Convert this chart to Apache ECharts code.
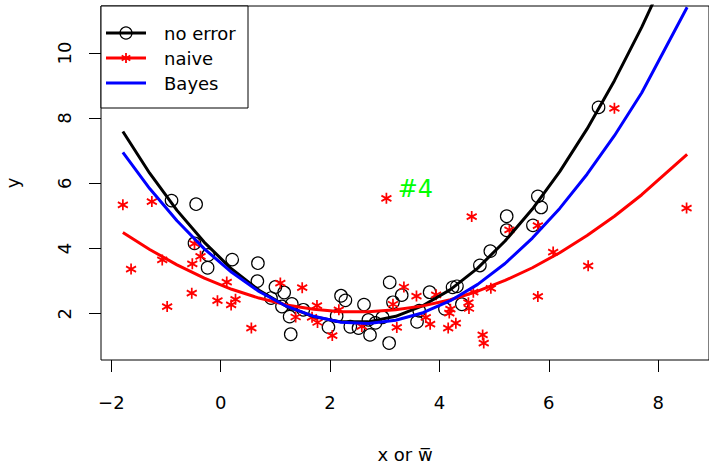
<!DOCTYPE html>
<html>
<head>
<meta charset="utf-8">
<script src="https://cdn.jsdelivr.net/npm/echarts@6/dist/echarts.min.js"></script>
<style>
  html, body { margin: 0; padding: 0; background: #fff; }
  #chart { width: 709px; height: 465px; }
</style>
</head>
<body>
<div id="chart"></div>
<script>
// tick labels
var xTicks = [-2, 0, 2, 4, 6, 8];
var yTicks = [2, 4, 6, 8, 10];

// "no error" points: true x against y
var xTrue = [-0.90, -0.45, -0.48, -0.23, -0.24, 0.21, 0.68, 0.67, 1.00, 1.16, 0.92, 1.12, 1.30, 1.26, 1.51, 1.28,
  1.97, 2.20, 2.28, 2.12, 2.37, 2.52, 2.62, 2.70, 2.83, 2.96, 2.73, 3.08, 3.09, 3.31, 3.15, 3.59, 3.63, 3.82,
  4.10, 4.24, 4.32, 4.41, 4.74, 4.93, 5.23, 5.23, 5.71, 5.80, 5.86, 6.91];
var yTrue = [5.47, 5.36, 4.16, 3.80, 3.41, 3.66, 3.55, 3.00, 2.82, 2.65, 2.48, 2.22, 2.30, 1.91, 2.12, 1.37,
  1.59, 2.55, 2.41, 1.93, 1.60, 1.56, 2.28, 1.81, 1.72, 1.89, 1.35, 1.10, 2.96, 2.57, 2.35, 1.75, 2.09, 2.66,
  2.15, 2.81, 2.84, 2.29, 3.48, 3.92, 4.99, 4.56, 4.71, 5.60, 5.26, 8.33];

// "naive" points: mean of replicates (w bar) against y
var wBar = [-1.79, -1.26, -1.64, -1.07, -0.52, -0.37, -0.48, -0.53, -0.98, -0.06, 0.11, 0.19, 0.27, 0.56,
  1.09, 1.49, 1.37, 1.76, 1.67, 1.77, 2.04, 2.16, 2.58, 3.03, 3.15, 3.35, 3.58, 3.22, 3.75, 3.83, 3.94,
  4.20, 4.18, 4.16, 4.30, 4.53, 4.54, 4.62, 4.59, 4.94, 4.79, 4.81, 5.28, 5.80, 5.80, 6.08, 6.72, 7.20, 8.52];
var yNaive = [5.34, 5.44, 3.37, 3.65, 3.53, 3.76, 4.15, 2.63, 2.22, 2.40, 2.97, 2.27, 2.44, 1.56,
  2.94, 2.80, 1.90, 2.25, 1.89, 1.73, 1.33, 2.12, 1.61, 5.54, 2.29, 2.82, 2.54, 1.58, 1.89, 1.68, 2.58,
  2.14, 2.02, 1.56, 1.71, 2.34, 2.16, 2.66, 4.98, 2.78, 1.35, 1.10, 4.57, 4.70, 2.53, 3.89, 3.47, 8.30, 5.24];

// fitted curves
var fitXTrue = [-1.79, -1.3, -0.8, -0.3, 0.2, 0.7, 1.2, 1.7, 2.2, 2.7, 3.2, 3.7, 4.2, 4.7, 5.2, 5.7, 6.2, 6.7, 7.2, 7.7, 8.2];
var fitNoError = [7.59, 6.31, 5.17, 4.19, 3.37, 2.72, 2.23, 1.91, 1.75, 1.75, 1.92, 2.25, 2.74, 3.40, 4.23, 5.21, 6.36, 7.67, 9.15, 10.79, 12.6];
var fitXW = [-1.79, -1.3, -0.8, -0.3, 0.2, 0.7, 1.2, 1.7, 2.2, 2.7, 3.2, 3.7, 4.2, 4.7, 5.2, 5.7, 6.2, 6.7, 7.2, 7.7, 8.53];
var fitNaive = [4.49, 3.97, 3.50, 3.09, 2.75, 2.48, 2.27, 2.14, 2.06, 2.06, 2.12, 2.24, 2.43, 2.69, 3.02, 3.41, 3.87, 4.40, 4.99, 5.65, 6.89];
var fitBayes = [6.95, 5.84, 4.85, 3.99, 3.27, 2.68, 2.23, 1.92, 1.74, 1.70, 1.80, 2.03, 2.40, 2.90, 3.54, 4.32, 5.23, 6.28, 7.46, 8.78, 11.4];

var panelTag = {x: 3.56, y: 5.83, text: '#4'};

function pairs(xs, ys) {
  return xs.map(function (x, i) { return [x, ys[i]]; });
}

var FONT = 'DejaVu Sans';
var STAR = 'path://M0,-10L0,10M-8.66,-5L8.66,5M-8.66,5L8.66,-5';

var chart = echarts.init(document.getElementById('chart'), null, {renderer: 'svg'});

// small legend drawn by hand, R style
function legendRow(y, color, label) {
  return [
    {type: 'line', z: 101, shape: {x1: 106, y1: y, x2: 146, y2: y}, style: {stroke: color, lineWidth: 3}},
    {type: 'text', z: 102, x: 164, y: y, style: {text: label, fontSize: 18, fontFamily: FONT, fill: '#000', verticalAlign: 'middle'}}
  ];
}
var legendParts = [
  {type: 'rect', z: 100, shape: {x: 101, y: 6, width: 147, height: 102},
    style: {fill: '#fff', stroke: '#000', lineWidth: 1}},
  {type: 'circle', z: 102, shape: {cx: 126, cy: 33, r: 6}, style: {fill: 'none', stroke: '#000', lineWidth: 1.2}},
  {type: 'line', z: 102, shape: {x1: 126, y1: 53, x2: 126, y2: 63}, style: {stroke: '#ff0000', lineWidth: 1.8}},
  {type: 'line', z: 102, shape: {x1: 121.7, y1: 55.5, x2: 130.3, y2: 60.5}, style: {stroke: '#ff0000', lineWidth: 1.8}},
  {type: 'line', z: 102, shape: {x1: 121.7, y1: 60.5, x2: 130.3, y2: 55.5}, style: {stroke: '#ff0000', lineWidth: 1.8}}
].concat(legendRow(33, '#000', 'no error'), legendRow(58, '#ff0000', 'naive'), legendRow(83, '#0000ff', 'Bayes'));

var option = {
  animation: false,
  textStyle: {fontFamily: FONT},
  grid: {left: 101, right: 0, top: 6, bottom: 105, containLabel: false, outerBoundsMode: 'none',
    show: true, borderColor: '#000', borderWidth: 1},
  xAxis: {
    type: 'value', min: -2.19, max: 8.93,
    axisLine: {show: false, onZero: false}, splitLine: {show: false},
    axisTick: {show: true, length: 12, customValues: xTicks, lineStyle: {color: '#000', width: 1}},
    axisLabel: {
      customValues: xTicks, margin: 33, fontSize: 18, color: '#000', fontFamily: FONT,
      formatter: function (v) { return v < 0 ? '\u2212' + Math.abs(v) : String(v); }
    },
    name: 'x or w\u0305', nameLocation: 'middle', nameGap: 85,
    nameTextStyle: {fontSize: 18, color: '#000', fontFamily: FONT}
  },
  yAxis: {
    type: 'value', min: 0.58, max: 11.44,
    axisLine: {show: false, onZero: false}, splitLine: {show: false},
    axisTick: {show: true, length: 12, customValues: yTicks, lineStyle: {color: '#000', width: 1}},
    axisLabel: {customValues: yTicks, margin: 28, rotate: 90, fontSize: 18, color: '#000', fontFamily: FONT},
    name: 'y', nameLocation: 'middle', nameGap: 80, nameRotate: 90,
    nameTextStyle: {fontSize: 18, color: '#000', fontFamily: FONT}
  },
  series: [
    {
      name: 'no error points', type: 'scatter', data: pairs(xTrue, yTrue),
      symbol: 'circle', symbolSize: 12.5,
      itemStyle: {color: 'rgba(0,0,0,0)', borderColor: '#000', borderWidth: 1.2, opacity: 1}
    },
    {
      name: 'naive points', type: 'scatter', data: pairs(wBar, yNaive),
      symbol: STAR, symbolSize: [10, 11],
      itemStyle: {color: '#ff0000', borderColor: '#ff0000', borderWidth: 1.8, opacity: 1}
    },
    {
      name: 'no error', type: 'line', data: pairs(fitXTrue, fitNoError),
      showSymbol: false, symbol: 'none', lineStyle: {color: '#000', width: 3}
    },
    {
      name: 'naive', type: 'line', data: pairs(fitXW, fitNaive),
      showSymbol: false, symbol: 'none', lineStyle: {color: '#ff0000', width: 3}
    },
    {
      name: 'Bayes', type: 'line', data: pairs(fitXW, fitBayes),
      showSymbol: false, symbol: 'none', lineStyle: {color: '#0000ff', width: 3}
    },
    {
      name: 'tag', type: 'scatter', data: [[panelTag.x, panelTag.y]], symbolSize: 0, silent: true,
      itemStyle: {opacity: 1},
      label: {show: true, position: 'inside', formatter: panelTag.text, color: '#00ff00', fontSize: 24, fontFamily: FONT}
    }
  ],
  graphic: legendParts
};

chart.setOption(option);
</script>
</body>
</html>
